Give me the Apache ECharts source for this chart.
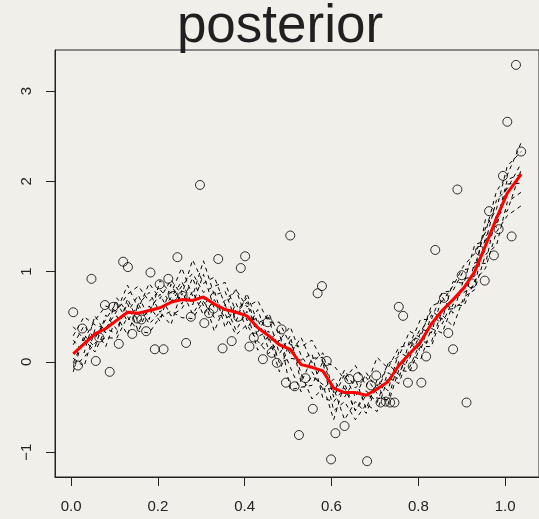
<!DOCTYPE html>
<html>
<head>
<meta charset="utf-8">
<title>posterior</title>
<script src="https://cdn.jsdelivr.net/npm/echarts@6/dist/echarts.min.js"></script>
<style>
    html, body { margin: 0; padding: 0; background: #f0efea; }
    #chart { width: 539px; height: 519px; }
</style>
</head>
<body>
<div id="chart"></div>
<script>
// Observed points
const obsX = [0.005,0.016,0.026,0.047,0.057,0.065,0.078,0.089,0.097,0.110,0.120,0.131,0.141,0.152,0.162,0.173,0.183,0.193,0.204,0.213,
    0.224,0.235,0.245,0.257,0.265,0.276,0.297,0.307,0.318,0.328,0.339,0.349,0.370,0.385,0.391,0.401,0.411,0.421,0.442,0.453,
    0.462,0.474,0.485,0.495,0.505,0.515,0.525,0.540,0.557,0.568,0.578,0.589,0.599,0.609,0.630,0.641,0.661,0.682,0.691,0.703,
    0.713,0.725,0.735,0.745,0.755,0.765,0.776,0.787,0.795,0.807,0.818,0.839,0.859,0.869,0.880,0.890,0.900,0.911,0.923,0.942,
    0.953,0.963,0.974,0.985,0.995,1.005,1.015,1.025,1.037];
const obsY = [0.55,-0.04,0.37,0.92,0.01,0.27,0.63,-0.11,0.61,0.20,1.11,1.05,0.31,0.48,0.47,0.34,0.99,0.14,0.86,0.14,
    0.92,0.73,1.16,0.73,0.21,0.50,1.96,0.43,0.54,0.59,1.14,0.15,0.23,0.50,1.04,1.17,0.17,0.27,0.03,0.44,
    0.10,-0.01,0.36,-0.23,1.40,-0.27,-0.81,-0.18,-0.52,0.76,0.84,0.01,-1.08,-0.79,-0.71,-0.19,-0.17,-1.10,-0.26,-0.15,
    -0.45,-0.44,-0.45,-0.45,0.61,0.51,-0.23,-0.05,0.21,-0.23,0.06,1.24,0.71,0.32,0.14,1.91,0.96,-0.45,0.87,1.23,
    0.90,1.67,1.18,1.47,2.06,2.66,1.39,3.29,2.33];

// Grid the posterior curves are drawn on
const gridX = [0.005,0.03,0.055,0.08,0.105,0.13,0.155,0.18,0.205,0.23,0.255,0.28,0.305,0.33,0.355,0.38,0.405,0.43,0.455,0.48,
    0.505,0.53,0.555,0.58,0.605,0.63,0.655,0.68,0.705,0.73,0.755,0.78,0.805,0.83,0.855,0.88,0.905,0.93,0.955,0.98,1.005,1.037];

// Posterior mean (red)
const meanY = [0.09,0.20,0.31,0.37,0.46,0.55,0.54,0.57,0.60,0.66,0.69,0.68,0.72,0.64,0.58,0.55,0.51,0.38,0.29,0.19,
    0.14,-0.03,-0.06,-0.10,-0.29,-0.34,-0.34,-0.37,-0.30,-0.22,-0.04,0.09,0.22,0.42,0.57,0.69,0.82,1.00,1.29,1.59,1.87,2.08];

// Posterior draws (dashed)
const drawA = [0.24,0.10,0.51,0.32,0.71,0.55,0.74,0.47,0.90,0.76,1.04,0.73,1.12,0.74,0.78,0.45,0.76,0.43,0.49,0.09,
    0.29,-0.23,0.04,0.05,-0.39,-0.14,-0.39,-0.12,-0.30,-0.02,0.06,0.34,0.27,0.62,0.67,0.84,1.07,1.20,1.44,1.89,2.07,2.43];
const drawB = [-0.11,0.30,0.16,0.52,0.36,0.65,0.34,0.62,0.45,0.86,0.64,0.93,0.62,0.79,0.38,0.65,0.36,0.58,0.24,0.34,
    -0.31,-0.28,-0.26,0.00,-0.54,-0.44,-0.64,-0.47,-0.55,-0.17,-0.24,0.09,0.02,0.37,0.32,0.64,0.62,0.90,1.04,1.44,1.62,1.73];
const drawC = [0.39,0.25,0.46,0.62,0.56,0.85,0.59,0.87,0.70,0.91,0.74,1.13,0.87,0.94,0.63,0.80,0.61,0.68,0.44,0.44,
    0.19,0.17,0.24,0.00,-0.04,-0.19,-0.04,-0.27,0.05,-0.07,0.16,0.19,0.47,0.47,0.77,0.79,1.02,1.05,1.49,1.69,2.17,2.33];
const drawD = [0.04,-0.05,0.36,0.17,0.51,0.30,0.64,0.42,0.55,0.41,0.79,0.53,0.72,0.34,0.63,0.35,0.56,0.13,0.29,-0.11,
    0.24,-0.13,-0.41,-0.30,-0.29,-0.64,-0.44,-0.57,-0.25,-0.47,-0.09,-0.11,0.17,0.17,0.52,0.39,0.72,0.80,1.19,1.29,1.77,1.88];
const drawE = [0.19,0.40,0.26,0.47,0.66,0.45,0.64,0.77,0.55,0.71,0.89,0.63,0.97,0.59,0.68,0.80,0.46,0.48,0.14,0.24,
    0.39,0.07,-0.11,-0.30,-0.19,-0.39,-0.19,-0.52,-0.20,-0.32,0.11,0.04,0.32,0.57,0.47,0.89,0.87,1.30,1.34,1.79,1.92,2.20];
const drawF = [-0.01,0.25,0.11,0.37,0.31,0.70,0.44,0.57,0.75,0.51,0.59,0.78,0.52,0.69,0.48,0.55,0.66,0.28,0.34,-0.01,
    0.04,0.02,0.09,-0.40,-0.44,-0.29,-0.54,-0.32,-0.45,-0.12,-0.19,0.24,0.12,0.52,0.42,0.69,0.77,0.85,1.39,1.54,2.02,2.08];
const drawG = [0.29,0.50,0.41,0.37,0.56,0.75,0.84,0.67,0.80,0.66,0.84,0.98,0.77,0.84,0.88,0.55,0.71,0.33,0.54,0.29,
    0.09,0.27,-0.01,0.10,-0.34,-0.09,-0.29,-0.17,-0.35,-0.02,-0.14,0.14,0.37,0.32,0.72,0.54,0.92,0.95,1.59,1.49,1.97,1.98];
const drawH = [-0.06,0.05,0.21,0.27,0.26,0.50,0.34,0.32,0.50,0.56,0.49,0.48,0.67,0.49,0.53,0.30,0.41,0.23,0.09,0.24,
    -0.06,-0.33,-0.16,-0.25,-0.64,-0.24,-0.54,-0.37,-0.40,-0.42,0.01,-0.06,0.22,0.22,0.57,0.59,0.67,1.10,1.09,1.64,1.67,2.13];
const draws = [drawA, drawB, drawC, drawD, drawE, drawF, drawG, drawH];

// Tick labels
const xTicks = [0, 0.2, 0.4, 0.6, 0.8, 1.0];
const yTicks = [-1, 0, 1, 2, 3];

const pairs = (xs, ys) => xs.map((x, i) => [x, ys[i]]);

const series = [];
series.push({
    type: 'scatter',
    data: pairs(obsX, obsY),
    symbol: 'circle',
    symbolSize: 9,
    itemStyle: { color: 'rgba(0,0,0,0)', borderColor: '#000', borderWidth: 1 },
    z: 2
});
draws.forEach(d => {
    series.push({
        type: 'line',
        data: pairs(gridX, d),
        showSymbol: false,
        lineStyle: { color: '#000', width: 1, type: [4, 4] },
        z: 3
    });
});
series.push({
    type: 'line',
    data: pairs(gridX, meanY),
    showSymbol: false,
    lineStyle: { color: '#ff0000', width: 3 },
    z: 4
});

const chart = echarts.init(document.getElementById('chart'));
chart.setOption({
    animation: false,
    backgroundColor: '#f0efea',
    textStyle: { fontFamily: 'Liberation Sans, Arial, sans-serif' },
    graphic: [{
        type: 'text',
        x: 280,
        y: 27,
        style: {
            text: 'posterior',
            fontSize: 53,
            fontFamily: 'Liberation Sans, Arial, sans-serif',
            fill: '#231f20',
            align: 'center',
            verticalAlign: 'middle'
        }
    }],
    grid: {
        left: 55, top: 50, width: 486, height: 427,
        show: true, borderColor: '#222', borderWidth: 1,
        backgroundColor: 'transparent'
    },
    xAxis: {
        type: 'value',
        position: 'bottom',
        min: -0.037, max: 1.078,
        axisLine: { show: true, onZero: false, lineStyle: { color: '#222', width: 1 } },
        splitLine: { show: false },
        axisTick: { show: true, length: 9, lineStyle: { color: '#222', width: 1 }, customValues: xTicks },
        axisLabel: {
            customValues: xTicks, margin: 22, fontSize: 15, color: '#222',
            formatter: v => v.toFixed(1)
        }
    },
    yAxis: {
        type: 'value',
        position: 'left',
        min: -1.275, max: 3.455,
        axisLine: { show: true, onZero: false, lineStyle: { color: '#222', width: 1 } },
        splitLine: { show: false },
        axisTick: { show: true, length: 9, lineStyle: { color: '#222', width: 1 }, customValues: yTicks },
        axisLabel: {
            customValues: yTicks, margin: 21, fontSize: 15, color: '#222', rotate: 90,
            formatter: v => String(v).replace('-', '\u2212')
        }
    },
    series: series
});
</script>
</body>
</html>
